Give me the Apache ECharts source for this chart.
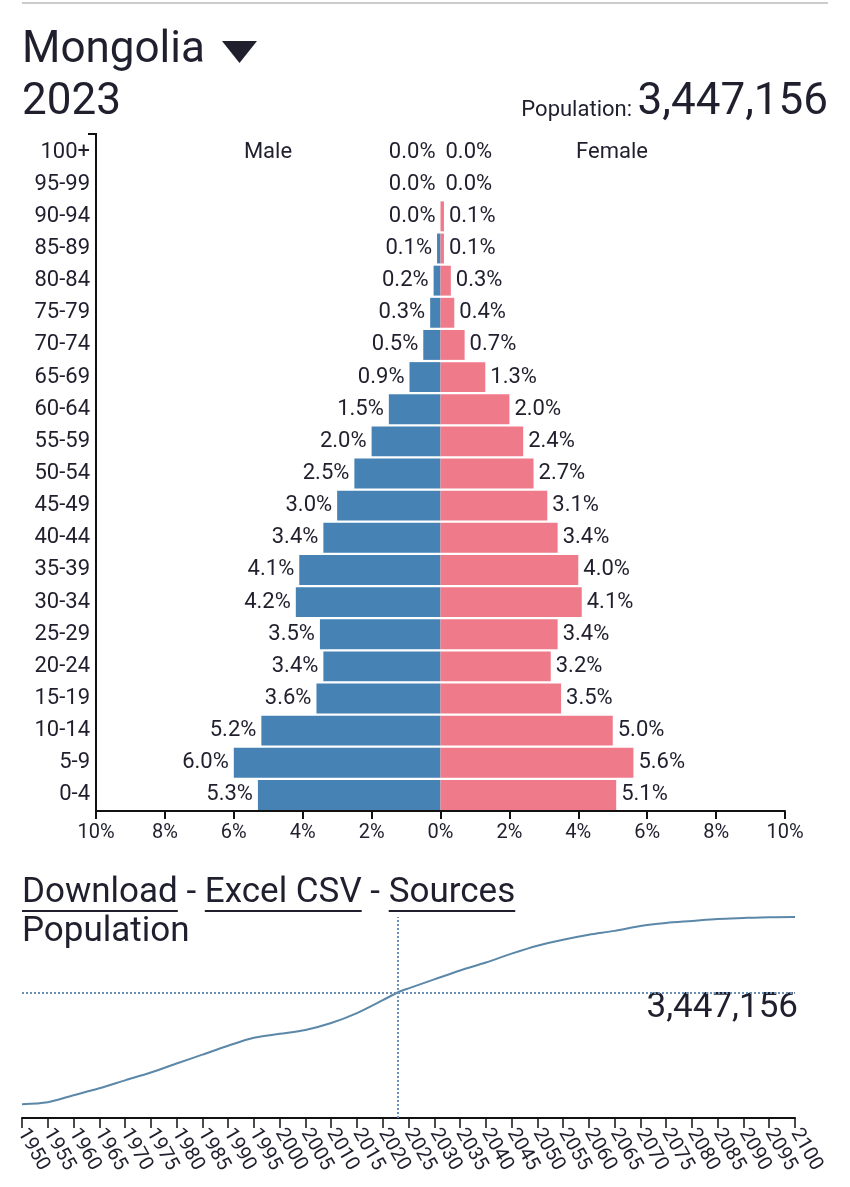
<!DOCTYPE html>
<html>
<head>
<meta charset="utf-8">
<script src="https://cdn.jsdelivr.net/npm/echarts@6/dist/echarts.min.js"></script>
<style>
html,body{margin:0;padding:0;background:#fff;}
#chart{width:850px;height:1187px;}
</style>
</head>
<body>
<div id="chart"></div>
<script>
// ---- Data ----
const country = 'Mongolia';
const year = '2023';
const totalPopulation = 3447156;
const ageGroups = ['100+','95-99','90-94','85-89','80-84','75-79','70-74','65-69','60-64','55-59','50-54','45-49','40-44','35-39','30-34','25-29','20-24','15-19','10-14','5-9','0-4'];
const malePct   = [0.0,0.0,0.0,0.1,0.2,0.3,0.5,0.9,1.5,2.0,2.5,3.0,3.4,4.1,4.2,3.5,3.4,3.6,5.2,6.0,5.3];
const femalePct = [0.0,0.0,0.1,0.1,0.3,0.4,0.7,1.3,2.0,2.4,2.7,3.1,3.4,4.0,4.1,3.4,3.2,3.5,5.0,5.6,5.1];

const popYears = [1950,1955,1960,1965,1970,1975,1980,1985,1990,1995,2000,2005,2010,2015,2020,2023,2025,2030,2035,2040,2045,2050,2055,2060,2065,2070,2075,2080,2085,2090,2095,2100];
const popValues = [780000,827000,992000,1158000,1347000,1535000,1748000,1960000,2173000,2361000,2456000,2550000,2715000,2951000,3258000,3447156,3541000,3754000,3966000,4155000,4367000,4556000,4698000,4816000,4910000,5028000,5099000,5146000,5194000,5217000,5236000,5241000];

// ---- Styles ----
const FONT = 'Roboto, "Noto Sans", sans-serif';
const TXT = '#1f1f2e';
const MALE = '#4682B4';
const FEMALE = '#EF7A8A';

function measure(text, size) {
  const c = document.createElement('canvas').getContext('2d');
  c.font = size + 'px ' + FONT;
  return c.measureText(text).width;
}

// Download links layout
const linkSize = 35;
const linkY = 893;
const linkParts = [
  {t:'Download', u:true}, {t:' - ', u:false}, {t:'Excel CSV', u:true}, {t:' - ', u:false}, {t:'Sources', u:true}
];
const linkGraphics = [];
let lx = 22;
linkParts.forEach(p => {
  const w = measure(p.t, linkSize);
  linkGraphics.push({type:'text', x:lx, y:linkY, style:{text:p.t, font:linkSize+'px '+FONT, fill:TXT, verticalAlign:'middle', align:'left'}});
  if (p.u) linkGraphics.push({type:'line', shape:{x1:lx, y1:linkY+18, x2:lx+w, y2:linkY+18}, style:{stroke:TXT, lineWidth:2}});
  lx += w;
});

const chart = echarts.init(document.getElementById('chart'), null, {renderer:'canvas'});

const option = {
  backgroundColor: '#fff',
  animation: false,
  textStyle: {fontFamily: FONT},
  grid: [
    {left: 96, right: 65, top: 136, bottom: 376, containLabel: false},
    {left: 22, right: 55, top: 917, bottom: 69, containLabel: false}
  ],
  xAxis: [
    {
      type: 'value', gridIndex: 0, min: -10, max: 10, interval: 2,
      axisLine: {show: true, onZero: false, lineStyle: {color: '#111', width: 2}},
      axisTick: {show: true, length: 8, lineStyle: {color: '#111', width: 2}},
      splitLine: {show: false},
      axisLabel: {color: TXT, fontSize: 20, fontFamily: FONT, margin: 12,
        formatter: v => Math.abs(v) + '%'}
    },
    {
      type: 'value', gridIndex: 1, min: 1950, max: 2100, interval: 5,
      axisLine: {show: true, onZero: false, lineStyle: {color: '#111', width: 2}},
      axisTick: {show: true, length: 10, lineStyle: {color: '#111', width: 1.5}},
      splitLine: {show: false},
      axisLabel: {color: TXT, fontSize: 20, fontFamily: FONT, rotate: -60, margin: 12,
        showMinLabel: true, showMaxLabel: true, hideOverlap: false, formatter: v => String(v)}
    }
  ],
  yAxis: [
    {
      type: 'category', gridIndex: 0, data: ageGroups, inverse: true,
      axisLine: {show: true, onZero: false, lineStyle: {color: '#111', width: 2}},
      axisTick: {show: false},
      axisLabel: {color: TXT, fontSize: 22, fontFamily: FONT, margin: 6}
    },
    {
      type: 'value', gridIndex: 1, min: 450000, max: 5241000, show: false,
      splitLine: {show: false}
    }
  ],
  series: [
    {
      name: 'Male', type: 'bar', xAxisIndex: 0, yAxisIndex: 0,
      data: malePct.map(v => -v),
      barCategoryGap: '7%', barGap: '-100%',
      itemStyle: {color: MALE},
      label: {show: true, position: 'left', distance: 5, color: TXT, fontSize: 22, fontFamily: FONT,
        formatter: p => Math.abs(p.value).toFixed(1) + '%'}
    },
    {
      name: 'Female', type: 'bar', xAxisIndex: 0, yAxisIndex: 0,
      data: femalePct,
      barCategoryGap: '7%', barGap: '-100%',
      itemStyle: {color: FEMALE},
      label: {show: true, position: 'right', distance: 5, color: TXT, fontSize: 22, fontFamily: FONT,
        formatter: p => p.value.toFixed(1) + '%'}
    },
    {
      name: 'Population', type: 'line', xAxisIndex: 1, yAxisIndex: 1,
      data: popYears.map((y, i) => [y, popValues[i]]),
      smooth: 0.3, showSymbol: false, symbol: 'none',
      lineStyle: {color: '#5b88a8', width: 2},
      markLine: {
        silent: true, symbol: 'none', label: {show: false},
        lineStyle: {color: '#6a8fb3', type: 'dotted', width: 2},
        data: [{xAxis: Number(year)}, {yAxis: totalPopulation}]
      }
    }
  ],
  graphic: [
    {type:'line', shape:{x1:22, y1:3, x2:828, y2:3}, style:{stroke:'#cccccc', lineWidth:2}},
    {type:'text', x:22, y:51, style:{text:country, font:'44px '+FONT, fill:TXT, verticalAlign:'middle'}},
    {type:'polygon', shape:{points:[[222,41],[257,41],[239.5,63]]}, style:{fill:TXT}},
    {type:'text', x:22, y:103, style:{text:year, font:'44px '+FONT, fill:TXT, verticalAlign:'middle'}},
    {type:'text', x:828, y:103, style:{text:totalPopulation.toLocaleString('en-US'), font:'44px '+FONT, fill:TXT, align:'right', verticalAlign:'middle'}},
    {type:'text', x:632, y:110, style:{text:'Population:', font:'22px '+FONT, fill:TXT, align:'right', verticalAlign:'middle'}},
    {type:'polyline', shape:{points:[[88,134],[96,134],[96,138]]}, style:{stroke:'#111', lineWidth:2, fill:null}},
    {type:'text', x:268, y:152, style:{text:'Male', font:'22px '+FONT, fill:TXT, align:'center', verticalAlign:'middle'}},
    {type:'text', x:612, y:152, style:{text:'Female', font:'22px '+FONT, fill:TXT, align:'center', verticalAlign:'middle'}},
    ...linkGraphics,
    {type:'text', x:22, y:932, style:{text:'Population', font:'35px '+FONT, fill:TXT, verticalAlign:'middle'}},
    {type:'text', x:798, y:1008, style:{text:totalPopulation.toLocaleString('en-US'), font:'35px '+FONT, fill:TXT, align:'right', verticalAlign:'middle'}}
  ]
};
chart.setOption(option);
</script>
</body>
</html>
